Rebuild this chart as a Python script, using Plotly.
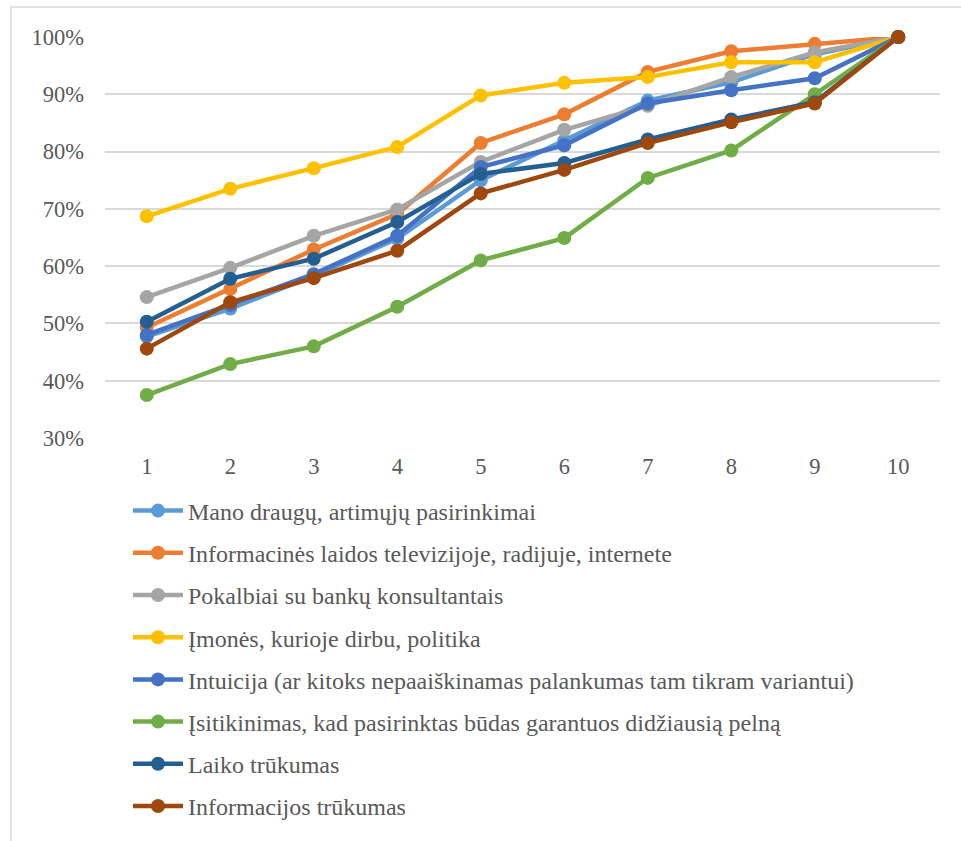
import plotly.graph_objects as go

# Decision step (1..10) and cumulative share of respondents per factor
steps = [1, 2, 3, 4, 5, 6, 7, 8, 9, 10]

mano_draugu = [0.477, 0.526, 0.583, 0.648, 0.750, 0.819, 0.889, 0.921, 0.970, 1.0]
informacines_laidos = [0.493, 0.560, 0.629, 0.691, 0.815, 0.865, 0.939, 0.975, 0.988, 1.0]
pokalbiai_bankai = [0.546, 0.597, 0.653, 0.699, 0.782, 0.838, 0.880, 0.930, 0.973, 1.0]
imones_politika = [0.687, 0.735, 0.771, 0.808, 0.898, 0.920, 0.930, 0.956, 0.956, 1.0]
intuicija = [0.480, 0.532, 0.586, 0.653, 0.773, 0.811, 0.884, 0.907, 0.928, 1.0]
isitikinimas = [0.375, 0.429, 0.460, 0.529, 0.610, 0.649, 0.754, 0.802, 0.900, 1.0]
laiko_trukumas = [0.503, 0.578, 0.613, 0.677, 0.761, 0.780, 0.821, 0.856, 0.886, 1.0]
informacijos_trukumas = [0.456, 0.537, 0.579, 0.627, 0.727, 0.768, 0.815, 0.851, 0.884, 1.0]

series = [
    ("Mano draugų, artimųjų pasirinkimai", mano_draugu, "#5B9BD5"),
    ("Informacinės laidos televizijoje, radijuje, internete", informacines_laidos, "#ED7D31"),
    ("Pokalbiai su bankų konsultantais", pokalbiai_bankai, "#A5A5A5"),
    ("Įmonės, kurioje dirbu, politika", imones_politika, "#FFC000"),
    ("Intuicija (ar kitoks nepaaiškinamas palankumas tam tikram variantui)", intuicija, "#4472C4"),
    ("Įsitikinimas, kad pasirinktas būdas garantuos didžiausią pelną", isitikinimas, "#70AD47"),
    ("Laiko trūkumas", laiko_trukumas, "#255E91"),
    ("Informacijos trūkumas", informacijos_trukumas, "#9E480E"),
]

y_ticks = [0.3, 0.4, 0.5, 0.6, 0.7, 0.8, 0.9, 1.0]
y_tick_labels = ["30%", "40%", "50%", "60%", "70%", "80%", "90%", "100%"]

FONT = "Liberation Serif"
TEXT = "#595959"
GRID = "#D9D9D9"

fig = go.Figure()
for i, (name, vals, color) in enumerate(series):
    fig.add_trace(go.Scatter(
        x=steps, y=vals, name=name, mode="lines+markers",
        line=dict(color=color, width=4.5),
        marker=dict(color=color, size=14),
        cliponaxis=False,
        legendgroup=f"g{i}",
    ))

W, H = 961, 841
L, R, T, B = 105, 21, 37, 403
pw, ph = W - L - R, H - T - B

def px_x(p):
    return (p - L) / pw

def px_y(p):
    return (H - B - p) / ph

# outer chart frame
fig.add_shape(type="rect", xref="paper", yref="paper",
              x0=px_x(11), x1=px_x(975), y0=px_y(7), y1=px_y(855),
              line=dict(color=GRID, width=1.5), fillcolor="rgba(0,0,0,0)", layer="below")

fig.update_layout(
    width=W, height=H,
    margin=dict(l=L, r=R, t=T, b=B),
    paper_bgcolor="white", plot_bgcolor="white",
    font=dict(family=FONT, color=TEXT, size=22),
    showlegend=True,
    legend=dict(
        x=px_x(128), y=px_y(488.5), xanchor="left", yanchor="top",
        font=dict(family=FONT, size=24, color=TEXT),
        itemwidth=50,
        tracegroupgap=8, bgcolor="rgba(0,0,0,0)",
    ),
    xaxis=dict(
        range=[0.5, 10.5], tickmode="array", tickvals=steps,
        ticktext=[str(s) for s in steps],
        showgrid=False, zeroline=False, showline=False, ticks="",
        tickfont=dict(family=FONT, size=22.5, color=TEXT),
        ticklabelstandoff=12,
    ),
    yaxis=dict(
        range=[0.3, 1.0], tickmode="array", tickvals=y_ticks, ticktext=y_tick_labels,
        showgrid=True, gridcolor=GRID, gridwidth=1.5, zeroline=False, showline=False, ticks="",
        tickfont=dict(family=FONT, size=22.5, color=TEXT),
        ticklabelstandoff=20,
    ),
)

fig.write_html("out.html")
